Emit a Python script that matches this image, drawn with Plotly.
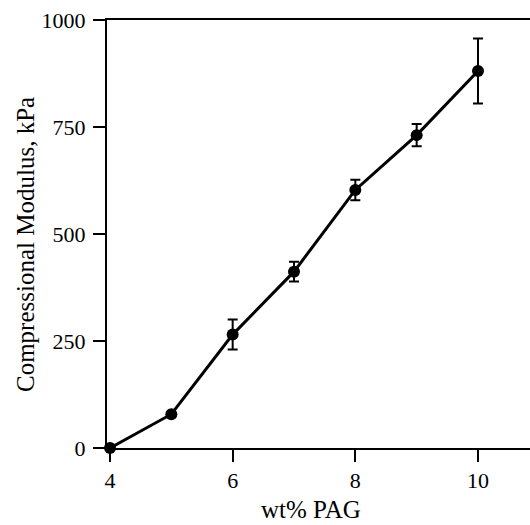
import plotly.graph_objects as go

wt_pag = [4, 5, 6, 7, 8, 9, 10]
modulus = [0, 79, 265, 412, 603, 731, 881]
err = [0, 0, 35, 23, 24, 26, 76]
x_ticks = [4, 6, 8, 10]
y_ticks = [0, 250, 500, 750, 1000]

font_family = "Liberation Serif, serif"
tick_font = dict(family=font_family, size=22, color="black")

fig = go.Figure()
fig.add_trace(go.Scatter(
    x=wt_pag, y=modulus,
    mode="lines+markers",
    line=dict(color="black", width=3),
    marker=dict(color="black", size=12),
    error_y=dict(type="data", array=err, visible=True, color="black",
                 thickness=2, width=5),
    cliponaxis=False,
    showlegend=False,
))

W, H = 530, 525
px_l, px_r, px_t, px_b = 107, 530, 20, 448


def to_paper(xp, yp):
    return (xp - px_l) / (px_r - px_l), (px_b - yp) / (px_b - px_t)


xt_x, xt_y = to_paper(311, 509)
yt_x, yt_y = to_paper(25, 245)

fig.update_layout(
    width=W, height=H,
    margin=dict(l=px_l, r=W - px_r, t=px_t, b=H - px_b, autoexpand=False),
    paper_bgcolor="white", plot_bgcolor="white",
    font=dict(family=font_family, color="black", size=20),
    xaxis=dict(
        range=[3.951, 10.848],
        tickmode="array",
        tickvals=x_ticks,
        ticktext=[str(v) for v in x_ticks],
        tickfont=tick_font,
        automargin=False,
        showline=True, linecolor="black", linewidth=2, mirror=True,
        ticks="outside", ticklen=12, tickwidth=2, tickcolor="black",
        showgrid=False, zeroline=False,
    ),
    yaxis=dict(
        range=[0, 1000],
        tickmode="array",
        tickvals=y_ticks,
        ticktext=[str(v) for v in y_ticks],
        tickfont=tick_font,
        ticklabelstandoff=3,
        automargin=False,
        showline=True, linecolor="black", linewidth=2,
        ticks="outside", ticklen=12, tickwidth=2, tickcolor="black",
        showgrid=False, zeroline=False,
    ),
    annotations=[
        dict(text="wt% PAG", x=xt_x, y=xt_y, xref="paper", yref="paper",
             xanchor="center", yanchor="middle", showarrow=False,
             font=dict(family=font_family, size=25)),
        dict(text="Compressional Modulus, kPa", x=yt_x, y=yt_y,
             xref="paper", yref="paper", xanchor="center", yanchor="middle",
             textangle=-90, showarrow=False,
             font=dict(family=font_family, size=25)),
    ],
)

fig.write_html("out.html")
